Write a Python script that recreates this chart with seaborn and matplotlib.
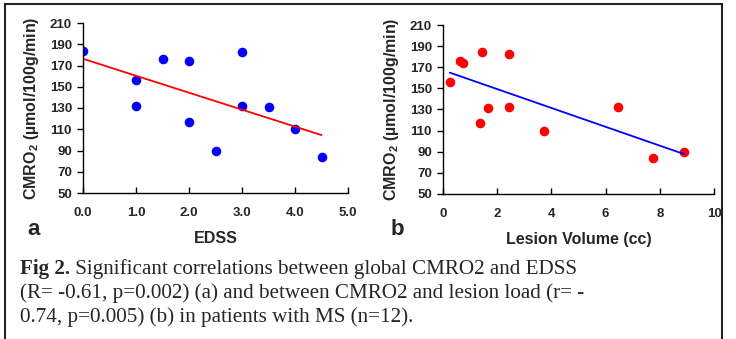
import seaborn as sns
import matplotlib.pyplot as plt
import pandas as pd

# data
edss = [0.0, 1.0, 1.0, 1.5, 2.0, 2.0, 2.5, 3.0, 3.0, 3.5, 4.0, 4.5]
cmro2_a = [184, 156, 132, 176, 174, 117, 90, 183, 132, 131, 110, 84]

lesion = [0.25, 0.64, 0.72, 1.44, 1.35, 1.66, 2.43, 2.42, 3.72, 6.47, 7.76, 8.9]
cmro2_b = [156, 176, 174, 184, 117, 131, 183, 132, 110, 132, 84, 90]

y_ticks = [50, 70, 90, 110, 130, 150, 170, 190, 210]
x_ticks_a = [0.0, 1.0, 2.0, 3.0, 4.0, 5.0]
x_ticks_b = [0, 2, 4, 6, 8, 10]

df_a = pd.DataFrame({'EDSS': edss, 'CMRO2': cmro2_a})
df_b = pd.DataFrame({'Lesion': lesion, 'CMRO2': cmro2_b})

sns.set_style('white')
plt.rcParams['font.family'] = ['Liberation Sans', 'DejaVu Sans']
plt.rcParams['mathtext.fontset'] = 'custom'
plt.rcParams['mathtext.rm'] = 'Liberation Sans:bold'
plt.rcParams['mathtext.default'] = 'rm'

W, H = 736, 339
fig = plt.figure(figsize=(W / 100, H / 100), dpi=100)
ax1 = fig.add_axes([83 / W, 1 - 193 / H, 265 / W, 170 / H])
ax2 = fig.add_axes([443 / W, 1 - 194 / H, 271 / W, 169 / H])

ylab = 'CMRO$_2$ (µmol/100g/min)'

sns.regplot(data=df_a, x='EDSS', y='CMRO2', ax=ax1, ci=None,
            scatter_kws={'color': '#0000ff', 's': 48, 'alpha': 1, 'linewidths': 0},
            line_kws={'color': '#ff0000', 'lw': 1.3})
sns.regplot(data=df_b, x='Lesion', y='CMRO2', ax=ax2, ci=None,
            scatter_kws={'color': '#ff0000', 's': 48, 'alpha': 1, 'linewidths': 0},
            line_kws={'color': '#0000ff', 'lw': 1.3})

for ax, xt, xlab, fmt in [(ax1, x_ticks_a, 'EDSS', '{:.1f}'),
                          (ax2, x_ticks_b, 'Lesion Volume (cc)', '{:g}')]:
    ax.set_xlim(xt[0], xt[-1])
    ax.set_ylim(50, 210)
    ax.set_xticks(xt)
    ax.set_xticklabels([fmt.format(v) for v in xt], fontsize=9.5, fontweight='bold')
    ax.set_yticks(y_ticks)
    ax.set_yticklabels([str(v) for v in y_ticks], fontsize=9.5, fontweight='bold')
    ax.set_xlabel(xlab, fontsize=11.5, fontweight='bold', labelpad=9)
    ax.set_ylabel(ylab, fontsize=11.5, fontweight='bold', labelpad=6)
    sns.despine(ax=ax)
    for s in ['left', 'bottom']:
        ax.spines[s].set_color('black')
        ax.spines[s].set_linewidth(1)
    ax.tick_params(axis='y', direction='out', length=4, width=1, color='black', pad=4, left=True)
    ax.tick_params(axis='x', direction='in', length=4, width=1, color='black', pad=10, bottom=True)
    ax.set_facecolor('none')

fig.text(27 / W, 1 - 235 / H, 'a', fontsize=16, fontweight='bold')
fig.text(391 / W, 1 - 235 / H, 'b', fontsize=16, fontweight='bold')

# caption
cap_kw = dict(family=['Liberation Serif'], fontsize=15.2)
t0 = fig.text(20 / W, 1 - 274 / H, 'Fig 2.', fontweight='bold', va='baseline', **cap_kw)
ax1.annotate(' Significant correlations between global CMRO2 and EDSS',
             xy=(1, 0), xycoords=t0, va='bottom', annotation_clip=False, **cap_kw)
fig.text(20 / W, 1 - 298 / H, '(R= -0.61, p=0.002) (a) and between CMRO2 and lesion load (r= -',
         va='baseline', **cap_kw)
fig.text(20 / W, 1 - 322 / H, '0.74, p=0.005) (b) in patients with MS (n=12).',
         va='baseline', **cap_kw)

fig.add_artist(plt.Rectangle((5 / W, -0.02), 717 / W, 1 - 4 / H + 0.02,
                             transform=fig.transFigure, fill=False,
                             edgecolor='#222222', lw=1.5))

fig.savefig('out.png', dpi=100)
